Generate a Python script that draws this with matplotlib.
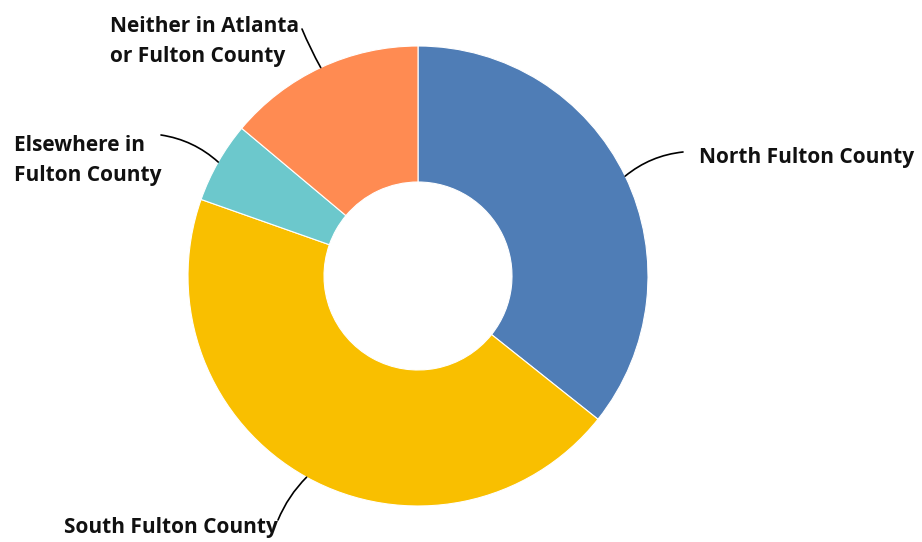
import numpy as np
import matplotlib
matplotlib.use('Agg')
import matplotlib.pyplot as plt

labels = ['North Fulton County', 'South Fulton County',
          'Elsewhere in\nFulton County', 'Neither in Atlanta\nor Fulton County']
shares = [35.7, 44.7, 5.7, 13.9]
colors = ['#4f7db6', '#f9bf00', '#6cc8cc', '#ff8b52']

# label placement (pixel coords, y down, baseline of last line) and leader-line ends
label_pos = [(699, 163), (64, 533), (14, 181), (110, 62)]
line_end = [(683, 152), (278, 520), (161, 135), (302, 29)]
line_rad = [0.15, -0.1, -0.15, 0.03]

W, H = 922, 542
cx, cy, R, r_in = 418, 276, 230, 94

plt.rcParams['font.family'] = ['Open Sans', 'DejaVu Sans']

fig = plt.figure(figsize=(W / 100, H / 100), dpi=100)
ax = fig.add_axes([0, 0, 1, 1])

wedges, _ = ax.pie(shares, colors=colors, startangle=90, counterclock=False,
                   center=(cx, H - cy), radius=R,
                   wedgeprops=dict(width=R - r_in, edgecolor='white', linewidth=0.8))

for w, lab, (tx, ty), (ex, ey), rad in zip(wedges, labels, label_pos, line_end, line_rad):
    mid = np.deg2rad((w.theta1 + w.theta2) / 2)
    ax_pt = (cx + R * np.cos(mid), H - cy + R * np.sin(mid))
    ax.annotate('', xy=ax_pt, xytext=(ex, H - ey),
                arrowprops=dict(arrowstyle='-', color='black', lw=1.2,
                                shrinkA=0, shrinkB=0,
                                connectionstyle=f'arc3,rad={rad}'))
    ax.text(tx, H - ty, lab, ha='left', va='baseline', fontsize=15,
            fontweight='bold', linespacing=1.55, color='#111111')

ax.set_xlim(0, W)
ax.set_ylim(0, H)
ax.set_aspect('equal')
ax.axis('off')

fig.savefig('out.png', dpi=100)
